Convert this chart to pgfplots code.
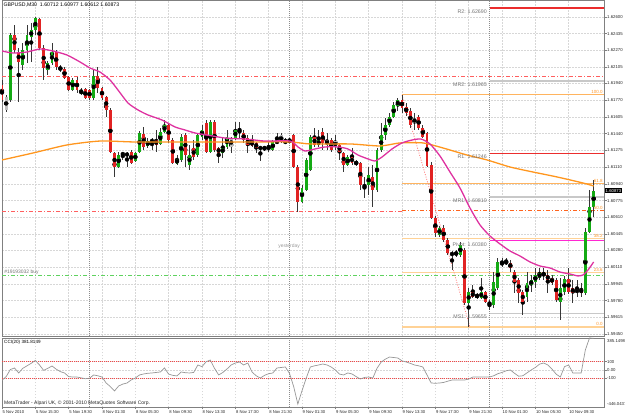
\documentclass[border=0pt]{standalone}
\usepackage{pgfplots}
\pgfplotsset{compat=1.18}
\usepackage{pgfplotstable}
\usepackage{fontspec}
\setmainfont{Liberation Sans}
\newcommand\ft[1]{\fontsize{#1}{#1}\selectfont}
\definecolor{cup}{RGB}{20,170,20}
\definecolor{cdn}{RGB}{225,35,35}
\definecolor{cgy}{RGB}{190,190,190}
\definecolor{wick}{RGB}{55,55,55}
\definecolor{mam}{RGB}{222,50,160}
\definecolor{mao}{RGB}{255,150,30}
\definecolor{gridc}{RGB}{215,215,215}
\definecolor{ddred}{RGB}{255,95,95}
\definecolor{ddgreen}{RGB}{95,210,95}
\definecolor{piv}{RGB}{255,40,210}
\definecolor{rline}{RGB}{235,45,45}
\definecolor{mline}{RGB}{200,200,200}
\definecolor{axc}{RGB}{128,128,128}
\definecolor{fiba}{RGB}{255,180,95}
\definecolor{fibb}{RGB}{255,210,150}
\definecolor{fibt}{RGB}{255,150,40}
\definecolor{fibh}{RGB}{255,100,30}
\definecolor{diag}{RGB}{255,110,110}
\definecolor{lvl}{RGB}{245,70,70}
\definecolor{ccic}{RGB}{150,150,150}
\definecolor{lblc}{RGB}{115,115,115}
\pgfplotsset{
 wickst/.style={only marks, mark=none, forget plot,
   error bars/y dir=both, error bars/y explicit, error bars/error mark=none,
   error bars/error bar style={line width=0.7bp, draw=wick}},
 bodyst/.style={only marks, mark=none, forget plot,
   error bars/y dir=both, error bars/y explicit, error bars/error mark=none,
   error bars/error bar style={line width=2.8bp, draw=#1}},
 hl/.style={forget plot, line width=#1},
}
\pgfplotstableread{
k o h l c
2 1.61775 1.62441 1.61755 1.62421
5 1.62123 1.62342 1.62073 1.62272
6 1.62272 1.62521 1.62143 1.62421
7 1.62401 1.62540 1.62153 1.62471
8 1.62471 1.62600 1.62421 1.62590
11 1.62073 1.62163 1.62024 1.62143
12 1.62143 1.62342 1.62123 1.62252
17 1.61874 1.61994 1.61864 1.61974
19 1.61835 1.61894 1.61825 1.61874
22 1.61795 1.62073 1.61775 1.62014
28 1.61109 1.61258 1.61099 1.61228
29 1.61228 1.61258 1.61179 1.61248
30 1.61218 1.61258 1.61109 1.61248
32 1.61169 1.61258 1.61159 1.61248
33 1.61258 1.61467 1.61248 1.61447
35 1.61318 1.61397 1.61298 1.61367
38 1.61338 1.61497 1.61328 1.61457
39 1.61457 1.61576 1.61447 1.61527
42 1.61139 1.61228 1.61129 1.61189
43 1.61179 1.61437 1.61159 1.61407
45 1.61129 1.61328 1.61079 1.61228
47 1.61228 1.61447 1.61208 1.61427
48 1.61407 1.61527 1.61377 1.61477
50 1.61258 1.61576 1.61248 1.61556
53 1.61248 1.61407 1.61198 1.61298
54 1.61308 1.61477 1.61288 1.61407
56 1.61397 1.61556 1.61377 1.61477
63 1.61288 1.61318 1.61268 1.61308
65 1.61278 1.61377 1.61268 1.61358
66 1.61348 1.61447 1.61338 1.61367
68 1.61348 1.61397 1.61338 1.61367
69 1.61358 1.61397 1.61348 1.61377
72 1.60761 1.60930 1.60751 1.60900
73 1.60880 1.61198 1.60870 1.61179
74 1.61079 1.61427 1.61069 1.61407
76 1.61328 1.61477 1.61308 1.61377
83 1.61129 1.61228 1.61119 1.61208
87 1.60910 1.61010 1.60801 1.60930
88 1.60930 1.61109 1.60831 1.61030
90 1.60880 1.61298 1.60861 1.61278
91 1.61278 1.61546 1.61258 1.61427
92 1.61427 1.61596 1.61377 1.61527
93 1.61527 1.61646 1.61507 1.61606
94 1.61606 1.61755 1.61596 1.61725
95 1.61715 1.61795 1.61666 1.61775
105 1.60433 1.60523 1.60413 1.60503
108 1.60234 1.60274 1.60085 1.60254
109 1.60234 1.60284 1.60214 1.60264
110 1.60234 1.60364 1.60214 1.60334
112 1.59757 1.59906 1.59519 1.59867
115 1.59807 1.60006 1.59797 1.59867
118 1.59737 1.60065 1.59707 1.59966
119 1.59906 1.60204 1.59886 1.60165
120 1.60135 1.60204 1.60115 1.60165
126 1.59817 1.60065 1.59767 1.59956
127 1.59936 1.60036 1.59867 1.59986
128 1.59966 1.60105 1.59906 1.60036
129 1.60006 1.60105 1.59986 1.60055
134 1.59767 1.60006 1.59588 1.59906
135 1.59867 1.60026 1.59837 1.59996
140 1.59857 1.60503 1.59837 1.60463
141 1.60463 1.60880 1.60453 1.60711
142 1.60712 1.60977 1.60612 1.60873
}\upbars
\pgfplotstableread{
k o h l c
0 1.61924 1.61974 1.61755 1.61775
3 1.62421 1.62521 1.62242 1.62272
4 1.62252 1.62292 1.61755 1.62153
9 1.62580 1.62590 1.62272 1.62292
10 1.62292 1.62322 1.61974 1.62093
13 1.62252 1.62272 1.62073 1.62103
14 1.62103 1.62123 1.62053 1.62073
15 1.62083 1.62103 1.61984 1.61994
16 1.62004 1.62014 1.61864 1.61874
18 1.61974 1.62004 1.61845 1.61874
20 1.61884 1.61894 1.61785 1.61795
21 1.61874 1.61884 1.61775 1.61795
23 1.62014 1.62103 1.61845 1.61894
24 1.61894 1.61904 1.61775 1.61795
25 1.61805 1.61815 1.61606 1.61676
26 1.61676 1.61695 1.61248 1.61258
27 1.61248 1.61258 1.61010 1.61109
31 1.61258 1.61278 1.61139 1.61149
34 1.61437 1.61507 1.61278 1.61308
37 1.61377 1.61477 1.61258 1.61328
40 1.61527 1.61546 1.61348 1.61377
41 1.61377 1.61397 1.61139 1.61149
44 1.61427 1.61447 1.61109 1.61228
46 1.61298 1.61377 1.61179 1.61208
49 1.61546 1.61576 1.61248 1.61258
51 1.61556 1.61576 1.61258 1.61278
52 1.61298 1.61308 1.61149 1.61248
57 1.61477 1.61556 1.61397 1.61447
58 1.61447 1.61477 1.61348 1.61377
59 1.61397 1.61427 1.61248 1.61328
60 1.61367 1.61427 1.61308 1.61318
61 1.61348 1.61358 1.61248 1.61298
62 1.61308 1.61318 1.61169 1.61288
64 1.61308 1.61358 1.61258 1.61288
70 1.61427 1.61437 1.61099 1.61109
71 1.61109 1.61129 1.60662 1.60761
75 1.61407 1.61497 1.61308 1.61328
77 1.61457 1.61497 1.61278 1.61348
79 1.61377 1.61397 1.61258 1.61278
81 1.61328 1.61348 1.61179 1.61258
82 1.61248 1.61258 1.61059 1.61129
84 1.61208 1.61298 1.61129 1.61149
85 1.61159 1.61179 1.61119 1.61139
86 1.61149 1.61159 1.60880 1.60930
89 1.61010 1.61129 1.60711 1.60880
96 1.61775 1.61825 1.61646 1.61695
97 1.61705 1.61745 1.61616 1.61646
98 1.61666 1.61695 1.61497 1.61527
100 1.61606 1.61626 1.61477 1.61497
101 1.61497 1.61527 1.61397 1.61407
102 1.61447 1.61457 1.61109 1.61119
103 1.61129 1.61159 1.60592 1.60602
104 1.60602 1.60622 1.60413 1.60453
106 1.60503 1.60533 1.60364 1.60383
107 1.60383 1.60403 1.60234 1.60254
111 1.60284 1.60304 1.59737 1.59757
113 1.59867 1.59936 1.59807 1.59817
114 1.59837 1.59857 1.59797 1.59817
116 1.59867 1.59876 1.59757 1.59767
117 1.59767 1.59787 1.59688 1.59737
121 1.60165 1.60204 1.60135 1.60155
122 1.60155 1.60185 1.60065 1.60105
123 1.60065 1.60085 1.59857 1.59966
124 1.59986 1.60006 1.59757 1.59857
125 1.59867 1.59886 1.59638 1.59767
131 1.60036 1.60085 1.59857 1.59986
132 1.60006 1.60036 1.59936 1.59956
133 1.59986 1.60006 1.59767 1.59787
136 1.59996 1.60105 1.59847 1.59867
137 1.59906 1.59986 1.59757 1.59857
139 1.59896 1.59956 1.59817 1.59857
}\dnbars
\pgfplotstableread{
k o h l c
1 1.61805 1.61825 1.61656 1.61676
36 1.61377 1.61397 1.61278 1.61358
55 1.61397 1.61407 1.61248 1.61308
67 1.61358 1.61447 1.61348 1.61427
78 1.61377 1.61447 1.61278 1.61328
80 1.61367 1.61427 1.61278 1.61308
99 1.61596 1.61646 1.61477 1.61546
130 1.60055 1.60105 1.59986 1.60026
138 1.59896 1.59986 1.59817 1.59857
}\gybars
\pgfplotstableread{
k v
0 -125
1 -80
2 5
3 24
4 -36
5 20
6 50
7 80
8 115
9 60
10 -5
11 20
12 48
13 10
14 -20
15 -36
16 -80
17 -85
18 -85
19 -95
20 -105
21 -100
22 -60
23 -70
24 -85
25 -157
26 -200
27 -253
28 -193
29 -170
30 -157
31 -120
32 -97
33 -60
34 -48
35 -40
36 -36
37 -30
38 -24
39 24
40 -50
41 -65
42 -72
43 -24
44 -33
45 -36
46 -30
47 60
48 40
49 100
50 120
51 20
52 -60
53 -30
54 12
55 60
56 84
57 96
58 60
59 84
60 -24
61 -70
62 -97
63 -65
64 -45
65 -36
66 24
67 30
68 36
69 -40
70 -200
71 -410
72 -250
73 -100
74 36
75 50
76 60
77 72
78 60
79 36
80 0
81 -50
82 -60
83 -36
84 -48
85 -80
86 -109
87 -90
88 -85
89 -97
90 20
91 96
92 130
93 156
94 150
95 144
96 110
97 96
98 80
99 60
100 50
101 36
102 -60
103 -157
104 -160
105 -157
106 -150
107 -135
108 -121
109 -121
110 -121
111 -121
112 -110
113 -85
114 -85
115 -85
116 -85
117 -85
118 -70
119 -45
120 -30
121 -10
122 0
123 -40
124 -75
125 -70
126 -35
127 0
128 30
129 70
130 84
131 60
132 10
133 -50
134 -85
135 40
136 60
137 -36
138 -36
139 -36
140 240
141 385.1498
142 381.8149
}\ccidata
\begin{document}
\begin{tikzpicture}
\useasboundingbox (0,0) rectangle (625bp,417bp);
\begin{axis}[
 at={(2bp,81bp)}, anchor=south west,
 width=602bp, height=336bp, scale only axis,
 xmin=0, xmax=144.48, ymin=1.59429, ymax=1.62769,
 clip mode=individual,
 axis line style={draw=axc, line width=0.8bp},
 xtick={8,16,...,136}, xticklabels={}, xtick style={draw=none},
 ytick={1.59450,1.59615,1.59780,1.59945,1.60110,1.60280,1.60445,1.60610,1.60775,1.60940,1.61110,1.61275,1.61440,1.61605,1.61770,1.61940,1.62105,1.62270,1.62435,1.62600},
 yticklabels={1.59450,1.59615,1.59780,1.59945,1.60110,1.60280,1.60445,1.60610,1.60775,1.60940,1.61110,1.61275,1.61440,1.61605,1.61770,1.61940,1.62105,1.62270,1.62435,1.62600},
 ytick pos=right, yticklabel pos=right,
 tick align=outside, major tick length=2.5bp,
 ytick style={draw=axc, line width=0.5bp},
 yticklabel style={font=\ft{4.3}, anchor=west, inner sep=0.5bp, text=black!85},
 grid=major, major grid style={draw=gridc, dash pattern=on 1.5bp off 1.5bp, line width=0.5bp},
 scaled y ticks=false,
]
% full-width dash-dot lines
\addplot[hl=0.8bp, ddred, dash pattern=on 4bp off 2bp on 1bp off 2bp] coordinates {(0,1.62014) (144.48,1.62014)};
\addplot[hl=0.8bp, ddred, dash pattern=on 4bp off 2bp on 1bp off 2bp] coordinates {(0,1.60672) (96,1.60672)};
\addplot[hl=0.8bp, ddgreen, dash pattern=on 4bp off 2bp on 1bp off 2bp] coordinates {(0,1.60036) (144.48,1.60036)};
% fibonacci levels
\addplot[hl=1bp, fiba] coordinates {(96,1.61825) (144.48,1.61825)};
\addplot[hl=1bp, fiba] coordinates {(96,1.60944) (144.48,1.60944)};
\addplot[hl=1bp, fibh, dash pattern=on 4bp off 2bp on 1bp off 2bp] coordinates {(96,1.60672) (144.48,1.60672)};
\addplot[hl=1.6bp, fibb] coordinates {(96,1.60400) (144.48,1.60400)};
\addplot[hl=1.3bp, fibb] coordinates {(96,1.60063) (144.48,1.60063)};
\addplot[hl=1.3bp, fibb] coordinates {(96,1.59519) (144.48,1.59519)};
\addplot[hl=0.7bp, diag, dash pattern=on 1bp off 1.5bp] coordinates {(96,1.61825) (112.3,1.59519)};
% pivot levels
\addplot[hl=1.3bp, rline] coordinates {(117,1.62690) (144.48,1.62690)};
\addplot[hl=1.3bp, mline] coordinates {(117,1.61965) (144.48,1.61965)};
\addplot[hl=1.3bp, rline] coordinates {(117,1.61246) (144.48,1.61246)};
\addplot[hl=1.3bp, mline] coordinates {(117,1.60810) (144.48,1.60810)};
\addplot[hl=1.5bp, piv] coordinates {(117,1.60380) (144.48,1.60380)};
\addplot[hl=1.3bp, mline] coordinates {(117,1.59655) (144.48,1.59655)};
% day separators
\addplot[hl=0.6bp, black!45, dash pattern=on 1bp off 1bp] coordinates {(21,1.59429) (21,1.62769)};
\addplot[hl=0.6bp, black!45, dash pattern=on 1bp off 1bp] coordinates {(69,1.59429) (69,1.62769)};
\addplot[hl=0.6bp, black!45, dash pattern=on 1bp off 1bp] coordinates {(117,1.59429) (117,1.62769)};
% candles: wicks
\addplot[wickst] table[x=k, y expr={0.5*(\thisrow{h}+\thisrow{l})}, y error expr={0.5*(\thisrow{h}-\thisrow{l})}] {\gybars};
\addplot[wickst] table[x=k, y expr={0.5*(\thisrow{h}+\thisrow{l})}, y error expr={0.5*(\thisrow{h}-\thisrow{l})}] {\upbars};
\addplot[wickst] table[x=k, y expr={0.5*(\thisrow{h}+\thisrow{l})}, y error expr={0.5*(\thisrow{h}-\thisrow{l})}] {\dnbars};
% candles: bodies
\addplot[bodyst=cgy] table[x=k, y expr={0.5*(\thisrow{o}+\thisrow{c})}, y error expr={0.5*abs(\thisrow{o}-\thisrow{c})}] {\gybars};
\addplot[bodyst=cup] table[x=k, y expr={0.5*(\thisrow{o}+\thisrow{c})}, y error expr={0.5*abs(\thisrow{o}-\thisrow{c})}] {\upbars};
\addplot[bodyst=cdn] table[x=k, y expr={0.5*(\thisrow{o}+\thisrow{c})}, y error expr={0.5*abs(\thisrow{o}-\thisrow{c})}] {\dnbars};
% moving averages
\addplot[hl=1.3bp, mao, smooth, tension=0.4] coordinates {
(0,1.61179) (7.44,1.61248) (15.6,1.61328) (23.52,1.61367) (31.44,1.61358) (39.6,1.61358) (49.92,1.61358) (59.52,1.61358) (69.12,1.61358) (73.92,1.61338) (83.52,1.61338) (90.72,1.61318) (95.52,1.61348) (101.04,1.61348) (105.84,1.61298) (111.6,1.61228) (116.4,1.61179) (121.92,1.61109) (127.44,1.61059) (133.2,1.61010) (139.44,1.60950) (142,1.60920)};
\addplot[hl=1.3bp, mam, smooth, tension=0.4] coordinates {
(0,1.62262) (2.64,1.62242) (6,1.62252) (9.12,1.62282) (12.24,1.62262) (15.6,1.62222) (18.72,1.62153) (21.12,1.62093) (23.52,1.62053) (25.92,1.61974) (27.84,1.61874) (30.24,1.61745) (32.64,1.61676) (35.04,1.61626) (38.4,1.61576) (41.52,1.61507) (43.92,1.61477) (46.32,1.61447) (49.2,1.61427) (53.52,1.61397) (58.32,1.61387) (63.12,1.61367) (69.12,1.61367) (71.04,1.61308) (72.72,1.61268) (75.12,1.61288) (77.52,1.61308) (80.64,1.61308) (83.04,1.61288) (85.44,1.61228) (87.84,1.61189) (89.52,1.61169) (91.2,1.61208) (93.6,1.61288) (96,1.61348) (98.4,1.61377) (100.56,1.61387) (102.72,1.61338) (105.12,1.61218) (107.52,1.61059) (109.92,1.60900) (112.32,1.60701) (114.72,1.60533) (117.12,1.60423) (119.52,1.60344) (121.92,1.60274) (124.32,1.60224) (126.72,1.60165) (129.12,1.60125) (131.52,1.60105) (133.92,1.60065) (136.32,1.60045) (138.24,1.60026) (139.44,1.60036) (140.64,1.60085) (142,1.60165)};
% texts
\node[anchor=north west, font=\ft{5.2}, inner sep=0pt] at (rel axis cs:0,1) [xshift=1.5bp, yshift=-2.5bp] {GBPUSD,M30\ \ 1.60712 1.60977 1.60612 1.60873};
\node[anchor=north east, font=\ft{5.3}, text=lblc, inner sep=0pt] at (axis cs:116.4,1.62690) [yshift=-1.8bp] {R2: 1.62690};
\node[anchor=north east, font=\ft{5.3}, text=lblc, inner sep=0pt] at (axis cs:116.4,1.61965) [yshift=-1.8bp] {MR2: 1.61965};
\node[anchor=north east, font=\ft{5.3}, text=lblc, inner sep=0pt] at (axis cs:116.4,1.61246) [yshift=-1.8bp] {R1: 1.61246};
\node[anchor=north east, font=\ft{5.3}, text=lblc, inner sep=0pt] at (axis cs:116.4,1.60810) [yshift=-1.8bp] {MR1: 1.60810};
\node[anchor=north east, font=\ft{5.3}, text=lblc, inner sep=0pt] at (axis cs:116.4,1.60380) [yshift=-1.8bp] {Pivot: 1.60380};
\node[anchor=north east, font=\ft{5.3}, text=lblc, inner sep=0pt] at (axis cs:116.4,1.59655) [yshift=-1.8bp] {MS1: 1.59655};
\node[anchor=south east, font=\ft{4.5}, text=fibt, inner sep=0pt] at (axis cs:144.2,1.61825) [yshift=0.8bp] {100.0};
\node[anchor=south east, font=\ft{4.5}, text=fibt, inner sep=0pt] at (axis cs:144.2,1.60944) [yshift=0.8bp] {61.8};
\node[anchor=south east, font=\ft{4.5}, text=fibt, inner sep=0pt] at (axis cs:144.2,1.60672) [yshift=0.8bp] {50.0};
\node[anchor=south east, font=\ft{4.5}, text=fibt, inner sep=0pt] at (axis cs:144.2,1.60400) [yshift=0.8bp] {38.2};
\node[anchor=south east, font=\ft{4.5}, text=fibt, inner sep=0pt] at (axis cs:144.2,1.60063) [yshift=0.8bp] {23.6};
\node[anchor=south east, font=\ft{4.5}, text=fibt, inner sep=0pt] at (axis cs:144.2,1.59519) [yshift=0.8bp] {0.0};
\node[font=\ft{5}, text=black!40, inner sep=0pt] at (axis cs:68.9,1.60324) {yesterday};
\node[anchor=south west, font=\ft{5}, text=lblc, inner sep=0pt] at (axis cs:0.5,1.60036) [yshift=0.5bp] {\#19193032 buy};
\node[anchor=west, fill=black, text=white, font=\ft{4.3}, inner xsep=1.2bp, inner ysep=1bp] at (axis cs:144.48,1.60873) [xshift=0.3bp] {1.60873};
\end{axis}
\begin{axis}[
 at={(2bp,10bp)}, anchor=south west,
 width=602bp, height=69bp, scale only axis,
 xmin=0, xmax=144.48, ymin=-446.0437, ymax=385.1498,
 clip mode=individual,
 axis line style={draw=axc, line width=0.8bp},
 xtick={0,8,...,136},
 xticklabels={5 Nov 2010,5 Nov 15:30,5 Nov 19:30,8 Nov 01:30,8 Nov 05:30,8 Nov 09:30,8 Nov 13:30,8 Nov 17:30,8 Nov 21:30,9 Nov 01:30,9 Nov 05:30,9 Nov 09:30,9 Nov 13:30,9 Nov 17:30,9 Nov 21:30,10 Nov 01:30,10 Nov 05:30,10 Nov 09:30},
 xtick pos=bottom, ytick pos=right, yticklabel pos=right,
 ytick={-100,0,100}, yticklabels={-100,0.00,100},
 tick align=outside, major tick length=2.5bp,
 tick style={draw=axc, line width=0.5bp},
 xticklabel style={anchor=north west, font=\ft{4.2}, inner sep=0.5bp, text=black!85},
 yticklabel style={font=\ft{4.3}, anchor=west, inner sep=0.5bp, text=black!85},
 grid=major, major grid style={draw=gridc, dash pattern=on 1.5bp off 1.5bp, line width=0.5bp},
]
\addplot[hl=0.7bp, lvl, dash pattern=on 1bp off 1bp] coordinates {(0,100) (144.48,100)};
\addplot[hl=0.7bp, lvl, dash pattern=on 1bp off 1bp] coordinates {(0,-100) (144.48,-100)};
\addplot[hl=0.6bp, black!45, dash pattern=on 1bp off 1bp] coordinates {(21,-446.0437) (21,385.1498)};
\addplot[hl=0.6bp, black!45, dash pattern=on 1bp off 1bp] coordinates {(69,-446.0437) (69,385.1498)};
\addplot[hl=0.6bp, black!45, dash pattern=on 1bp off 1bp] coordinates {(117,-446.0437) (117,385.1498)};
\addplot[hl=0.7bp, ccic] table[x=k, y=v] {\ccidata};
\node[anchor=north west, font=\ft{4.6}, inner sep=0pt] at (rel axis cs:0,1) [xshift=2bp, yshift=-1.8bp] {CCI(20) 381.8149};
\node[anchor=south west, font=\ft{5}, inner sep=0pt, text=black!85] at (rel axis cs:0,0) [xshift=2bp, yshift=1.5bp] {MetaTrader - Alpari UK, © 2001-2010 MetaQuotes Software Corp.};
\node[anchor=north west, font=\ft{4.3}, inner sep=0pt, text=black!85] at (axis cs:144.48,385.1498) [xshift=3bp, yshift=-1bp] {385.1498};
\node[anchor=south west, font=\ft{4.3}, inner sep=0pt, text=black!85] at (axis cs:144.48,-446.0437) [xshift=3bp, yshift=1bp] {-446.0437};
\end{axis}
\end{tikzpicture}
\end{document}
